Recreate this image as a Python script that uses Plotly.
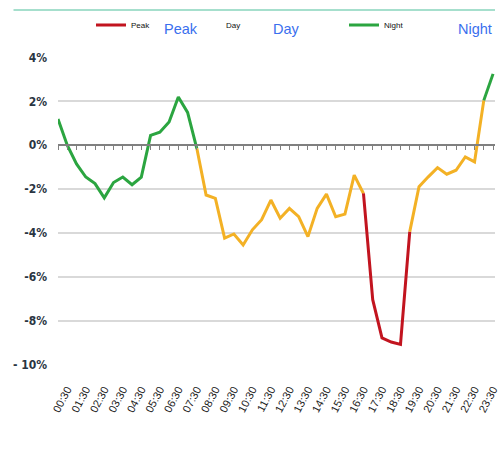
import plotly.graph_objects as go

times = ["00:00","00:30","01:00","01:30","02:00","02:30","03:00","03:30","04:00","04:30",
         "05:00","05:30","06:00","06:30","07:00","07:30","08:00","08:30","09:00","09:30",
         "10:00","10:30","11:00","11:30","12:00","12:30","13:00","13:30","14:00","14:30",
         "15:00","15:30","16:00","16:30","17:00","17:30","18:00","18:30","19:00","19:30",
         "20:00","20:30","21:00","21:30","22:00","22:30","23:00","23:30"]
values = [1.2, 0.0, -0.85, -1.45, -1.75, -2.4, -1.7, -1.45, -1.8, -1.45,
          0.45, 0.6, 1.06, 2.2, 1.5, -0.15, -2.27, -2.42, -4.24, -4.05,
          -4.55, -3.86, -3.4, -2.5, -3.33, -2.88, -3.26, -4.17, -2.88, -2.23,
          -3.26, -3.14, -1.36, -2.2, -7.05, -8.79, -8.98, -9.09, -3.94, -1.89,
          -1.44, -1.02, -1.32, -1.14, -0.53, -0.76, 2.05, 3.26]
# segments: (first index, last index, period)
segments = [(0, 15, "Night"), (15, 33, "Day"), (33, 38, "Peak"), (38, 46, "Day"), (46, 47, "Night")]
tick_labels = ["00:30","01:30","02:30","03:30","04:30","05:30","06:30","07:30","08:30","09:30",
               "10:30","11:30","12:30","13:30","14:30","15:30","16:30","17:30","18:30","19:30",
               "20:30","21:30","22:30","23:30"]
y_ticks = [4, 2, 0, -2, -4, -6, -8, -10]
y_tick_text = ["4%", "2%", "0%", "-2%", "-4%", "-6%", "-8%", "- 10%"]
periods = ["Peak", "Day", "Night"]

colors = {"Peak": "#c2141f", "Day": "#f3b125", "Night": "#2ba540"}

fig = go.Figure()
for a, b, p in segments:
    fig.add_trace(go.Scatter(x=times[a:b + 1], y=values[a:b + 1], mode="lines",
                             line=dict(color=colors[p], width=3), showlegend=False,
                             hoverinfo="skip"))

# invisible trace for zero-line tick axis
fig.add_trace(go.Scatter(x=times, y=[None] * len(times), xaxis="x2", showlegend=False,
                         hoverinfo="skip", mode="lines"))

# legend entries
legend_cols = {"Peak": "#c2141f", "Day": "rgba(0,0,0,0)", "Night": "#2ba540"}
legend_names = ["legend", "legend2", "legend3"]
legend_x = [91, 186, 344]
for p, ln in zip(periods, legend_names):
    fig.add_trace(go.Scatter(x=[None], y=[None], mode="lines", name=p,
                             line=dict(color=legend_cols[p], width=3), legend=ln))

leg_common = dict(orientation="h", xref="container", yref="container", xanchor="left",
                  yanchor="middle", font=dict(size=8, color="#111", family="Liberation Sans"),
                  bgcolor="rgba(0,0,0,0)", itemwidth=30)
layout_legends = {}
for ln, lx in zip(legend_names, legend_x):
    layout_legends[ln] = dict(leg_common, x=lx / 500, y=1 - 25 / 473)

PT, PB = 57, 365  # plot area top/bottom in px


def py(v):
    return (PB - v) / (PB - PT)


big_x = [163, 273, 461]
annotations = []
for p, bx in zip(periods, big_x):
    annotations.append(dict(text=p, xref="paper", yref="paper", x=(bx - 58) / 442,
                            y=py(29), xanchor="left", yanchor="middle", showarrow=False,
                            font=dict(size=14.5, color="#3a6fee", family="Liberation Sans")))

ymin, ymax = -10.03, 4.03
fig.update_layout(
    width=500, height=473,
    margin=dict(l=58, r=0, t=PT, b=473 - PB),
    paper_bgcolor="white", plot_bgcolor="white",
    annotations=annotations,
    shapes=[dict(type="line", xref="paper", yref="paper", x0=-45 / 442, x1=1.0,
                 y0=py(10), y1=py(10), line=dict(color="#a6dfcd", width=2))],
    xaxis=dict(type="category", range=[0, 47.21], tickmode="array",
               tickvals=tick_labels, ticktext=tick_labels, tickangle=-62,
               showgrid=False, zeroline=False, showline=False, ticks="",
               tickfont=dict(size=11, color="#222", family="Liberation Sans"),
               ticklabelstandoff=15),
    xaxis2=dict(type="category", overlaying="x", matches="x", anchor="free",
                position=(0 - ymin) / (ymax - ymin), showline=True, linecolor="#808080",
                linewidth=1.5, ticks="outside", ticklen=4, tickcolor="#808080",
                tickmode="array", tickvals=times, showticklabels=False, showgrid=False,
                zeroline=False),
    yaxis=dict(range=[ymin, ymax], tickmode="array", tickvals=y_ticks, ticktext=y_tick_text,
               showgrid=True, gridcolor="#d9d9d9", gridwidth=1.5, zeroline=False,
               tickfont=dict(size=12, color="#2a3542",
                             family="DejaVu Sans Condensed, Liberation Sans Narrow, sans-serif",
                             weight="bold"),
               ticklabelstandoff=10),
    **layout_legends,
)

fig.write_html("out.html", config={"displayModeBar": False})

with open("out.html", "r", encoding="utf-8") as f:
    html = f.read()
html = html.replace("<head>", "<head><style>html,body{margin:0;padding:0;overflow:hidden}</style>", 1)
with open("out.html", "w", encoding="utf-8") as f:
    f.write(html)
